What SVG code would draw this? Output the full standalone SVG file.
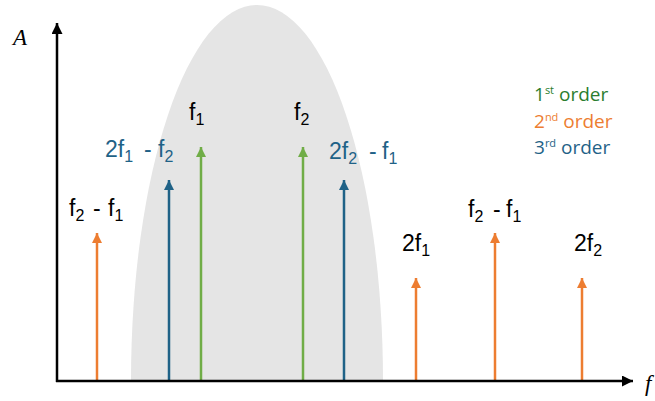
<svg xmlns="http://www.w3.org/2000/svg" width="655" height="401" viewBox="0 0 655 401">
  <defs>
    <marker id="hOr" viewBox="0 0 10 10" refX="10" refY="5" markerWidth="10" markerHeight="10" markerUnits="userSpaceOnUse" orient="auto">
      <path d="M0,0 L10,5 L0,10 Z" fill="#ed7d31"/>
    </marker>
    <marker id="hGr" viewBox="0 0 10 10" refX="10" refY="5" markerWidth="10" markerHeight="10" markerUnits="userSpaceOnUse" orient="auto">
      <path d="M0,0 L10,5 L0,10 Z" fill="#70ad47"/>
    </marker>
    <marker id="hBl" viewBox="0 0 10 10" refX="10" refY="5" markerWidth="10" markerHeight="10" markerUnits="userSpaceOnUse" orient="auto">
      <path d="M0,0 L10,5 L0,10 Z" fill="#1f6287"/>
    </marker>
    <marker id="hBk" viewBox="0 0 10 10" refX="10" refY="5" markerWidth="11" markerHeight="11" markerUnits="userSpaceOnUse" orient="auto">
      <path d="M0,0 L10,5 L0,10 Z" fill="#000"/>
    </marker>
  </defs>
  <style>
    .lbl { font-family: "Liberation Sans", Arial, sans-serif; font-size: 23px; fill: #000; }
    .sub { font-size: 16px; }
    .blue { fill: #1f6287; }
    .leg { font-family: "Open Sans", "Liberation Sans", sans-serif; font-size: 19px; }
    .sup { font-size: 11px; }
    .ax { font-family: "Liberation Serif", "Times New Roman", serif; font-style: italic; font-size: 23px; fill: #000; }
    .or { stroke: #ed7d31; stroke-width: 2.5; fill: none; }
    .gr { stroke: #70ad47; stroke-width: 2.5; fill: none; }
    .bl { stroke: #1f6287; stroke-width: 2.5; fill: none; }
    .axis { stroke: #000; stroke-width: 2.5; fill: none; }
  </style>

  <g id="band">
    <path d="M131,381 A126,376 0 0 1 383,381 Z" fill="#e5e5e5"/>
  </g>

  <g id="connectors">
    <line class="or" x1="97" y1="381" x2="97" y2="233" marker-end="url(#hOr)"/>
    <line class="bl" x1="169" y1="381" x2="169" y2="180" marker-end="url(#hBl)"/>
    <line class="gr" x1="201" y1="381" x2="201" y2="147" marker-end="url(#hGr)"/>
    <line class="gr" x1="303" y1="381" x2="303" y2="147" marker-end="url(#hGr)"/>
    <line class="bl" x1="344" y1="381" x2="344" y2="180" marker-end="url(#hBl)"/>
    <line class="or" x1="416" y1="381" x2="416" y2="278" marker-end="url(#hOr)"/>
    <line class="or" x1="495" y1="381" x2="495" y2="233" marker-end="url(#hOr)"/>
    <line class="or" x1="582" y1="381" x2="582" y2="278" marker-end="url(#hOr)"/>
  </g>

  <g id="axes">
    <line class="axis" x1="57" y1="382" x2="57" y2="23" marker-end="url(#hBk)"/>
    <line class="axis" x1="56" y1="381" x2="633" y2="381" marker-end="url(#hBk)"/>
    <text class="ax" x="13" y="45">A</text>
    <text class="ax" x="645" y="391">f</text>
  </g>

  <g id="f1"><text class="lbl" x="189" y="120">f<tspan class="sub" dy="5">1</tspan></text></g>
  <g id="f2"><text class="lbl" x="294" y="120">f<tspan class="sub" dy="5">2</tspan></text></g>
  <g id="im3-low"><text class="lbl blue" x="105" y="157">2f<tspan class="sub" dy="5">1</tspan><tspan dy="-5" x="144">-</tspan><tspan x="158">f</tspan><tspan class="sub" dy="5">2</tspan></text></g>
  <g id="im3-high"><text class="lbl blue" x="329" y="159">2f<tspan class="sub" dy="5">2</tspan><tspan dy="-5" x="369">-</tspan><tspan x="382">f</tspan><tspan class="sub" dy="5">1</tspan></text></g>
  <g id="diff-low"><text class="lbl" x="69" y="216">f<tspan class="sub" dy="5">2</tspan><tspan dy="-5" x="93">-</tspan><tspan x="108">f</tspan><tspan class="sub" dy="5">1</tspan></text></g>
  <g id="h2-1"><text class="lbl" x="402" y="251">2f<tspan class="sub" dy="5">1</tspan></text></g>
  <g id="diff-high"><text class="lbl" x="468" y="217">f<tspan class="sub" dy="5">2</tspan><tspan dy="-5" x="493">-</tspan><tspan x="506">f</tspan><tspan class="sub" dy="5">1</tspan></text></g>
  <g id="h2-2"><text class="lbl" x="574" y="251">2f<tspan class="sub" dy="5">2</tspan></text></g>

  <g id="legend">
    <text class="leg" x="534" y="101" fill="#2a7d2e">1<tspan class="sup" dy="-7">st</tspan><tspan dy="7"> order</tspan></text>
    <text class="leg" x="534" y="128" fill="#ed7d31">2<tspan class="sup" dy="-7">nd</tspan><tspan dy="7"> order</tspan></text>
    <text class="leg" x="534" y="154" fill="#1f6287">3<tspan class="sup" dy="-7">rd</tspan><tspan dy="7"> order</tspan></text>
  </g>
</svg>
